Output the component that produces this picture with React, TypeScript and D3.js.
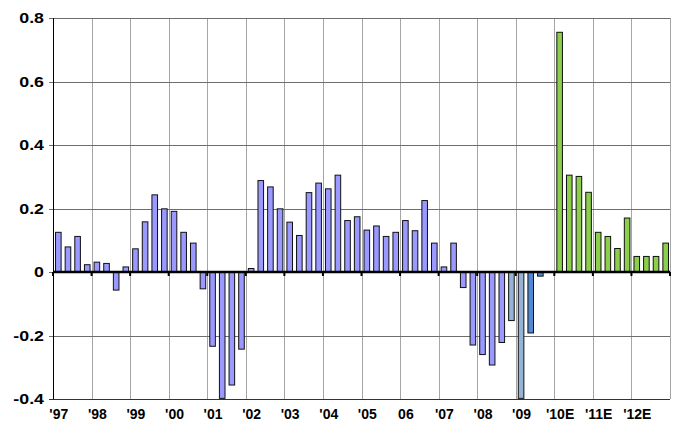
import React from "react";
import * as d3 from "d3";

// quarterly values, 1997 Q1 .. 2012 Q4
const years = ["'97", "'98", "'99", "'00", "'01", "'02", "'03", "'04", "'05", "06", "'07", "'08", "'09", "'10E", "'11E", "'12E"];

const values = [
  0.125, 0.079, 0.112, 0.023,
  0.031, 0.027, -0.057, 0.016,
  0.073, 0.158, 0.243, 0.199,
  0.191, 0.125, 0.091, -0.053,
  -0.234, -0.398, -0.356, -0.243,
  0.011, 0.288, 0.268, 0.199,
  0.157, 0.115, 0.25, 0.28,
  0.262, 0.305, 0.162, 0.174,
  0.132, 0.145, 0.112, 0.125,
  0.162, 0.13, 0.225, 0.091,
  0.016, 0.091, -0.049, -0.23,
  -0.26, -0.293, -0.222, -0.153,
  -0.398, -0.192, -0.013, 0,
  0.755, 0.305, 0.301, 0.251,
  0.125, 0.112, 0.074, 0.17,
  0.049, 0.049, 0.049, 0.091,
];

// data status per quarter
const status = [
  ...Array(47).fill("actual"),
  "revised", "revised", "advance", "advance", "advance",
  ...Array(12).fill("estimate"),
];

const yTicks = [-0.4, -0.2, 0, 0.2, 0.4, 0.6, 0.8];

const W = 673;
const H = 425;
const margin = { top: 18, right: 3, bottom: 26, left: 53 };

const fills: Record<string, string> = {
  actual: "#9999ff",
  revised: "#95b3d7",
  advance: "#4f88d3",
  estimate: "#8ccf4b",
};

export default function App() {
  const quarters = values.map((_, i) => i);
  const x = d3.scaleBand<number>()
    .domain(quarters)
    .range([margin.left, W - margin.right])
    .paddingInner(0.42)
    .paddingOuter(0.21);
  const y = d3.scaleLinear()
    .domain([-0.4, 0.8])
    .range([H - margin.bottom, margin.top]);

  const step = x.step();
  const gap = (step - x.bandwidth()) / 2;
  const yearLines = d3.range(years.length + 1).map((i) =>
    i < years.length ? x(i * 4)! - gap : W - margin.right
  );
  const font = "'Liberation Sans', Arial, sans-serif";

  return (
    <svg width={W} height={H} style={{ position: "absolute", left: 0, top: 0 }}>
      <rect width={W} height={H} fill="#fff" />
      {/* vertical grid */}
      {yearLines.slice(1).map((xv, i) => (
        <line key={"v" + i} x1={Math.round(xv) + 0.5} x2={Math.round(xv) + 0.5}
          y1={y(0.8)} y2={y(-0.4)} stroke="#a6a6a6" strokeWidth={1} />
      ))}
      {/* horizontal grid */}
      {yTicks.map((t) => (
        <g key={"h" + t}>
          <line x1={margin.left - 4} x2={W - margin.right}
            y1={Math.round(y(t)) + 0.5} y2={Math.round(y(t)) + 0.5}
            stroke={t === -0.4 ? "#333" : "#6e6e6e"} strokeWidth={1} />
          <text transform={`translate(44,${y(t)}) scale(1.27,1)`} dy="0.36em" textAnchor="end"
            fontFamily={font} fontWeight="bold" fontSize={14} fill="#000">
            {t === 0 ? "0" : t.toFixed(1)}
          </text>
        </g>
      ))}
      {/* left axis */}
      <line x1={margin.left + 0.5} x2={margin.left + 0.5} y1={y(0.8)} y2={y(-0.4)}
        stroke="#000" strokeWidth={1} />
      {/* bars */}
      {values.map((v, i) => (
        <rect key={"b" + i}
          x={x(i)! + 0.5}
          y={Math.min(y(v), y(0))}
          width={x.bandwidth()}
          height={Math.abs(y(v) - y(0))}
          fill={fills[status[i]]}
          stroke="#111" strokeWidth={1} />
      ))}
      {/* zero axis */}
      <line x1={margin.left} x2={W - margin.right} y1={y(0)} y2={y(0)}
        stroke="#000" strokeWidth={2.5} />
      {yearLines.map((xv, i) => (
        <line key={"t" + i} x1={xv} x2={xv} y1={y(0)} y2={y(0) + 4}
          stroke="#000" strokeWidth={2} />
      ))}
      {/* year labels, centred on each first quarter */}
      {years.map((label, i) => (
        <text key={"x" + i} x={x(i * 4)! + x.bandwidth() / 2 + 1} y={419}
          textAnchor="middle" fontFamily={font} fontWeight="bold" fontSize={14} fill="#000">
          {label}
        </text>
      ))}
    </svg>
  );
}
